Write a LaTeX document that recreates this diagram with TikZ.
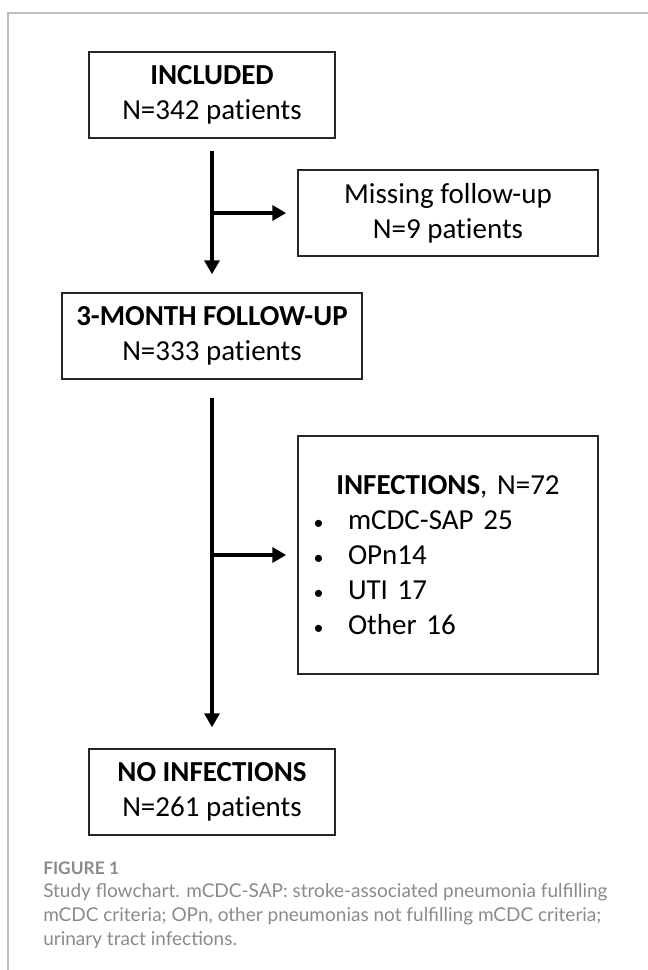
\documentclass[tikz,border=0pt]{standalone}
\usepackage{fontspec}
\setmainfont{Carlito}[Ligatures=NoCommon]
\newfontfamily\capfont{Lato}
\usetikzlibrary{positioning, arrows.meta}
\definecolor{boxline}{HTML}{262626}
\definecolor{framegray}{HTML}{BDBDBD}
\definecolor{capgray}{HTML}{8A8A8A}
\tikzstyle{stage} = [rectangle, draw=boxline, line width=1.1pt, minimum width=184.5pt, minimum height=64.5pt, inner sep=0pt, align=center, font=\fontsize{21.75}{26.25}\selectfont]
\tikzstyle{side} = [stage, minimum width=225pt]
\tikzstyle{arrow} = [line width=3pt, -{Triangle[length=10.5pt,width=11.25pt]}]
\tikzstyle{caption} = [anchor=base west, inner sep=0pt, align=left, text=capgray]
\newcommand{\itemdot}{\makebox[24.75pt][l]{\hspace{-1pt}\fontsize{15}{15}\selectfont\textbullet}}

\begin{document}
\begin{tikzpicture}[x=0.75pt, y=-0.75pt]
        \useasboundingbox (0,0) rectangle (648,970);
        \draw [framegray, line width=1.4pt] (648,13) -- (8,13) -- (8,970);

        \node (incl) [stage] at (212,95) {\textbf{INCLUDED}\\N=342 patients};
        \node (missing) [side] at (448,213) {Missing follow-up\\N=9 patients};
        \node (follow) [side] at (212,336) {\textbf{3-MONTH FOLLOW-UP}\\N=333 patients};
        \node (infect) [side, minimum height=178.5pt, text width=199.5pt, align=left] at (448,555)
                {\makebox[\linewidth]{\textbf{INFECTIONS}, N=72}\\
                 \itemdot mCDC-SAP 25\\
                 \itemdot OPn14\\
                 \itemdot UTI 17\\
                 \itemdot Other 16};
        \node (noinf) [stage] at (212,792) {\textbf{NO INFECTIONS}\\N=261 patients};

        \draw [arrow] ([yshift=-9pt]incl.south) -- ([yshift=13.5pt]follow.north);
        \draw [arrow] (incl.south |- missing.west) -- ([xshift=-8.25pt]missing.west);
        \draw [arrow] ([yshift=-13.5pt]follow.south) -- ([yshift=15.75pt]noinf.north);
        \draw [arrow] (follow.south |- infect.west) -- ([xshift=-8.25pt]infect.west);

        \node (figlabel) [caption, font=\capfont\fontsize{13}{15}\selectfont\bfseries] at (43,874) {FIGURE 1};
        \node (figcaption) [caption, font=\capfont\fontsize{14.25}{18}\selectfont] at (43,945)
                {Study flowchart. mCDC-SAP: stroke-associated pneumonia fulfilling\\
                 mCDC criteria; OPn, other pneumonias not fulfilling mCDC criteria;\\
                 urinary tract infections.};
\end{tikzpicture}
\end{document}
